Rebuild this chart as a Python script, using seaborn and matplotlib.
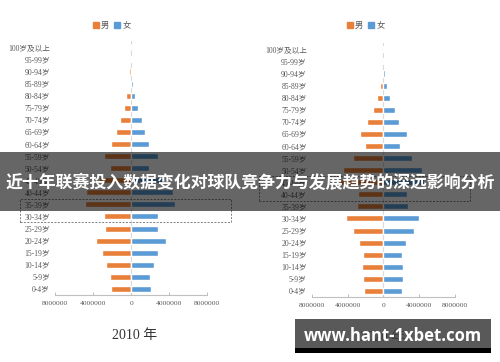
import matplotlib
matplotlib.use("Agg")
import matplotlib.pyplot as plt
import matplotlib.patches as mpatches
from matplotlib.ticker import FuncFormatter, FixedLocator
import seaborn as sns
import pandas as pd

sns.set_theme(style="white")
plt.rcParams['font.family'] = ['Liberation Serif', 'Noto Sans CJK SC', 'DejaVu Sans']

# ---- data ----
ages = ['100岁及以上', '95-99岁', '90-94岁', '85-89岁', '80-84岁', '75-79岁', '70-74岁',
        '65-69岁', '60-64岁', '55-59岁', '50-54岁', '45-49岁', '40-44岁', '35-39岁',
        '30-34岁', '25-29岁', '20-24岁', '15-19岁', '10-14岁', '5-9岁', '0-4岁']

male_2010 = [20000, 40000, 200000, 170000, 520000, 800000, 1220000, 1640000, 2130000,
             2900000, 2200000, 3400000, 4700000, 4900000, 2860000, 2790000, 3730000,
             3070000, 2650000, 2230000, 2160000]
female_2010 = [30000, 50000, 100000, 200000, 450000, 730000, 1110000, 1430000, 1880000,
               2800000, 1900000, 3300000, 4400000, 4600000, 2860000, 2860000, 3660000,
               2860000, 2370000, 1990000, 2060000]

male_2020 = [50000, 50000, 100000, 370000, 740000, 1190000, 1790000, 2600000, 2000000,
             3350000, 4540000, 4800000, 2800000, 2900000, 4170000, 3350000, 2680000,
             2230000, 2380000, 2310000, 2160000]
female_2020 = [80000, 100000, 150000, 410000, 780000, 1300000, 1750000, 2640000, 1860000,
               3200000, 4320000, 4500000, 2600000, 2720000, 4020000, 3390000, 2570000,
               2050000, 2200000, 2160000, 2050000]

xticks = [-8000000, -4000000, 0, 4000000, 8000000]
legend_labels = ['男', '女']
years = ['2010 年', '2020 年']
banner_text = '近十年联赛投入数据变化对球队竞争力与发展趋势的深远影响分析'
watermark = 'www.hant-1xbet.com'

ORANGE = '#E8803A'
BLUE = '#5B9BD5'
TXT = '#595959'

fig = plt.figure(figsize=(5.0, 3.62), dpi=100)
fig.patch.set_facecolor('white')

W, H = 500.0, 362.0
panels = [
    dict(x0=55.0, x1=207.3, top=41.3, bot=295.0, male=male_2010, female=female_2010,
         legx=112, title=years[0], titx=135, tity=335, box=(20, 199.3, 231, 221.7)),
    dict(x0=311.7, x1=455.0, top=43.3, bot=297.0, male=male_2020, female=female_2020,
         legx=366, title=years[1], titx=383, tity=337, box=(259, 176.4, 470, 200.5)),
]

for p in panels:
    ax = fig.add_axes([p['x0'] / W, 1 - p['bot'] / H, (p['x1'] - p['x0']) / W,
                       (p['bot'] - p['top']) / H])
    df_m = pd.DataFrame({'age': ages, 'value': [-v for v in p['male']]})
    df_f = pd.DataFrame({'age': ages, 'value': p['female']})
    ax.axvline(0, color='#d9d9d9', lw=0.8, zorder=0)
    sns.barplot(data=df_m, x='value', y='age', order=ages, color=ORANGE, width=0.5,
                saturation=1, ax=ax, zorder=2)
    sns.barplot(data=df_f, x='value', y='age', order=ages, color=BLUE, width=0.5,
                saturation=1, ax=ax, zorder=2)
    ax.set_xlim(-8000000, 8000000)
    ax.set_ylim(len(ages) - 0.5, -0.5)
    ax.xaxis.set_major_locator(FixedLocator(xticks))
    ax.xaxis.set_major_formatter(FuncFormatter(lambda v, pos: f"{abs(int(v))}"))
    ax.set_xlabel('')
    ax.set_ylabel('')
    for s in ['top', 'right', 'left']:
        ax.spines[s].set_visible(False)
    ax.spines['bottom'].set_color('#bfbfbf')
    ax.spines['bottom'].set_linewidth(0.8)
    ax.tick_params(axis='x', direction='in', length=2.2, width=0.7, color='#bfbfbf',
                   labelsize=5.4, labelcolor=TXT, pad=4.5, bottom=True)
    ax.tick_params(axis='y', length=0, labelsize=5.5, labelcolor=TXT, pad=3.6)
    ax.set_facecolor('none')

    handles = [mpatches.Patch(color=ORANGE, label=legend_labels[0]),
               mpatches.Patch(color=BLUE, label=legend_labels[1])]
    fig.legend(handles=handles, loc='center', bbox_to_anchor=(p['legx'] / W, 1 - 25 / H),
               ncol=2, frameon=False, handlelength=0.7, handleheight=0.7,
               handletextpad=0.3, columnspacing=0.6, labelcolor=TXT,
               prop={'family': ['Noto Sans CJK SC'], 'size': 6})

    fig.text(p['titx'] / W, 1 - p['tity'] / H, p['title'], ha='center', va='center',
             fontsize=10, color='#333333',
             family=['Liberation Serif', 'Noto Sans CJK SC'])

    bx0, by0, bx1, by1 = p['box']
    fig.add_artist(mpatches.Rectangle((bx0 / W, 1 - by1 / H), (bx1 - bx0) / W,
                                      (by1 - by0) / H, transform=fig.transFigure,
                                      fill=False, edgecolor='#7f7f7f', lw=0.7,
                                      linestyle=(0, (2, 1.5)), zorder=5))

# banner overlay
fig.add_artist(mpatches.Rectangle((0, 1 - 211 / H), 1, (211 - 151.7) / H,
                                  transform=fig.transFigure, facecolor='black',
                                  alpha=0.6, edgecolor='none', zorder=10))
fig.text(0.5, 1 - 183 / H, banner_text, ha='center', va='center', fontsize=12.2,
         color='white', weight='bold', family=['Noto Sans CJK SC'], zorder=11)

# watermark box
fig.add_artist(mpatches.Rectangle((295 / W, 1 - 348 / H), (491 - 295) / W,
                                  (348 - 319.3) / H, transform=fig.transFigure,
                                  facecolor='#3c3c3c', alpha=0.85, edgecolor='none',
                                  zorder=10))
fig.add_artist(mpatches.Rectangle((295 / W, 1 - 352.7 / H), (491 - 295) / W,
                                  (352.7 - 348) / H, transform=fig.transFigure,
                                  facecolor='black', edgecolor='none', zorder=10))
fig.text(393 / W, 1 - 336 / H, watermark, ha='center', va='center', fontsize=12,
         color='white', weight='bold', family=['Open Sans', 'DejaVu Sans'], zorder=11)

fig.savefig('out.png', dpi=100)
